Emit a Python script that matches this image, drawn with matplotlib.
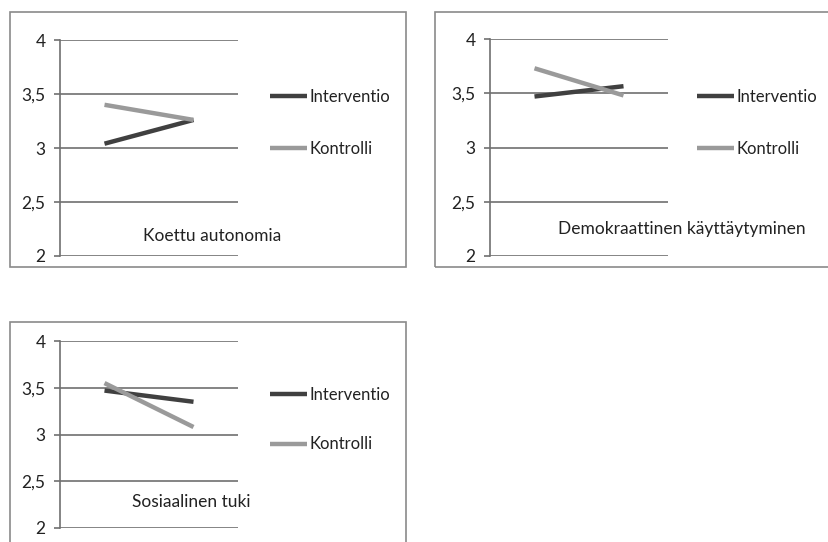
import matplotlib.pyplot as plt
from matplotlib.patches import Rectangle

plt.rcParams['font.family'] = ['Lato', 'DejaVu Sans']

# data
groups = ['Interventio', 'Kontrolli']
titles = ['Koettu autonomia', 'Demokraattinen käyttäytyminen', 'Sosiaalinen tuki']
interventio = [[3.04, 3.26], [3.47, 3.565], [3.47, 3.35]]
kontrolli = [[3.40, 3.26], [3.73, 3.48], [3.55, 3.08]]
yticks = [2, 2.5, 3, 3.5, 4]
ytick_labels = ['2', '2,5', '3', '3,5', '4']

colors = {'Interventio': '#404040', 'Kontrolli': '#9a9a9a'}

W, H = 829, 542
fig = plt.figure(figsize=(W / 100, H / 100), dpi=100)


def fx(px):
    return px / W


def fy(py):
    return 1 - py / H


# pixel layouts: frame box, axes box, legend anchor, title position
panels = [
    dict(frame=(10, 12, 406, 267), ax=(60, 40, 238, 256), leg=(270, 100), title=(212, 236)),
    dict(frame=(435, 12, 835, 267), ax=(490, 39, 668, 256), leg=(697, 100), title=(682, 229)),
    dict(frame=(10, 322, 406, 560), ax=(60, 341, 238, 528), leg=(270, 398), title=(191, 502)),
]

for i, p in enumerate(panels):
    x0, y0, x1, y1 = p['frame']
    fig.add_artist(Rectangle((fx(x0), fy(y1)), fx(x1 - x0), (y1 - y0) / H,
                             transform=fig.transFigure, fill=False,
                             edgecolor='#8a8a8a', linewidth=1.2))
    a0, b0, a1, b1 = p['ax']
    ax = fig.add_axes([fx(a0), fy(b1), fx(a1 - a0), (b1 - b0) / H])
    ax.plot([0, 1], interventio[i], color=colors['Interventio'], lw=3.2,
            solid_capstyle='butt', label='Interventio')
    ax.plot([0, 1], kontrolli[i], color=colors['Kontrolli'], lw=3.2,
            solid_capstyle='butt', label='Kontrolli')
    ax.set_xlim(-0.5, 1.5)
    ax.set_ylim(2, 4)
    ax.set_yticks(yticks)
    ax.set_yticklabels(ytick_labels, fontsize=12.5, color='#222222')
    ax.set_xticks([])
    ax.yaxis.grid(True, color='#707070', linewidth=1.2)
    ax.set_axisbelow(True)
    for s in ['top', 'right', 'bottom']:
        ax.spines[s].set_visible(False)
    ax.spines['left'].set_color('#707070')
    ax.spines['left'].set_linewidth(1.2)
    ax.tick_params(axis='y', length=4.3, width=1.2, color='#707070', pad=6)
    lx, ly = p['leg']
    spacing = 2.15 if i < 2 else 2.0
    fig.legend(*ax.get_legend_handles_labels(), loc='upper left',
               bbox_to_anchor=(fx(lx), fy(ly - 11)), frameon=False,
               fontsize=12, handlelength=2.25, handletextpad=0.12,
               labelspacing=spacing, borderaxespad=0, borderpad=0,
               labelcolor='#222222')
    tx, ty = p['title']
    fig.text(fx(tx), fy(ty), titles[i], ha='center', va='center',
             fontsize=12.5, color='#222222')

fig.savefig('out.png', dpi=100)
